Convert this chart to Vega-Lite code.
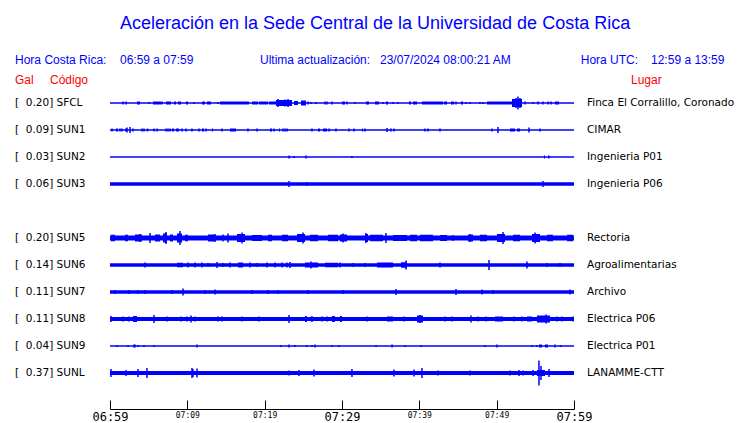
{
"$schema":"https://vega.github.io/schema/vega-lite/v6.json",
"width":464,"height":409,
"autosize":{"type":"none"},
"padding":{"left":110,"top":0,"right":166,"bottom":14},
"background":"white",
"config":{"view":{"stroke":null}},
"datasets":{
"st":[
{"c":"SFCL","gal":0.20,"place":"Finca El Corralillo, Coronado"},
{"c":"SUN1","gal":0.09,"place":"CIMAR"},
{"c":"SUN2","gal":0.03,"place":"Ingenieria P01"},
{"c":"SUN3","gal":0.06,"place":"Ingenieria P06"},
{"c":"SUN5","gal":0.20,"place":"Rectoria"},
{"c":"SUN6","gal":0.14,"place":"Agroalimentarias"},
{"c":"SUN7","gal":0.11,"place":"Archivo"},
{"c":"SUN8","gal":0.11,"place":"Electrica P06"},
{"c":"SUN9","gal":0.04,"place":"Electrica P01"},
{"c":"SUNL","gal":0.37,"place":"LANAMME-CTT"}
],
"seg":[
{"c":"SFCL","t0":0,"t1":60,"w":1.3},
{"c":"SUN1","t0":0,"t1":60,"w":1.3},
{"c":"SUN2","t0":0,"t1":60,"w":1.3},
{"c":"SUN3","t0":0,"t1":60,"w":3.6},
{"c":"SUN5","t0":0,"t1":60,"w":5},
{"c":"SUN6","t0":0,"t1":60,"w":3.3},
{"c":"SUN7","t0":0,"t1":60,"w":3.3},
{"c":"SUN8","t0":0,"t1":60,"w":3.8},
{"c":"SUN9","t0":0,"t1":60,"w":1.3},
{"c":"SUNL","t0":0,"t1":60,"w":4},
{"c":"SFCL","t0":3.49,"t1":3.88,"w":3},
{"c":"SFCL","t0":5.56,"t1":6.59,"w":3},
{"c":"SFCL","t0":7.24,"t1":7.89,"w":3},
{"c":"SFCL","t0":8.28,"t1":8.53,"w":3},
{"c":"SFCL","t0":8.79,"t1":9.18,"w":3},
{"c":"SFCL","t0":9.83,"t1":10.09,"w":3},
{"c":"SFCL","t0":11.9,"t1":12.28,"w":3},
{"c":"SFCL","t0":12.54,"t1":13.06,"w":3},
{"c":"SFCL","t0":14.22,"t1":17.97,"w":3},
{"c":"SFCL","t0":18.36,"t1":19.14,"w":3},
{"c":"SFCL","t0":19.27,"t1":20.43,"w":3},
{"c":"SFCL","t0":20.56,"t1":21.47,"w":3},
{"c":"SFCL","t0":21.47,"t1":23.53,"w":6},
{"c":"SFCL","t0":23.79,"t1":24.31,"w":4},
{"c":"SFCL","t0":24.7,"t1":25.34,"w":5},
{"c":"SFCL","t0":30.0,"t1":30.39,"w":3},
{"c":"SFCL","t0":33.1,"t1":33.49,"w":3},
{"c":"SFCL","t0":34.27,"t1":34.78,"w":3},
{"c":"SFCL","t0":35.69,"t1":35.95,"w":3},
{"c":"SFCL","t0":38.66,"t1":38.92,"w":3},
{"c":"SFCL","t0":39.18,"t1":39.7,"w":3},
{"c":"SFCL","t0":40.34,"t1":43.06,"w":3},
{"c":"SFCL","t0":43.19,"t1":43.58,"w":3},
{"c":"SFCL","t0":44.09,"t1":44.48,"w":3},
{"c":"SFCL","t0":45.39,"t1":45.65,"w":3},
{"c":"SFCL","t0":48.75,"t1":51.98,"w":3},
{"c":"SFCL","t0":51.98,"t1":53.28,"w":8},
{"c":"SFCL","t0":57.54,"t1":58.06,"w":3},
{"c":"SUN1","t0":0.78,"t1":1.03,"w":3},
{"c":"SUN1","t0":1.94,"t1":2.2,"w":3},
{"c":"SUN1","t0":8.02,"t1":8.28,"w":3},
{"c":"SUN1","t0":8.53,"t1":8.92,"w":3},
{"c":"SUN1","t0":11.9,"t1":12.16,"w":3},
{"c":"SUN1","t0":13.19,"t1":13.32,"w":3},
{"c":"SUN1","t0":15.52,"t1":16.29,"w":3},
{"c":"SUN1","t0":20.69,"t1":20.95,"w":3},
{"c":"SUN1","t0":21.85,"t1":21.98,"w":3},
{"c":"SUN1","t0":26.9,"t1":27.16,"w":3},
{"c":"SUN1","t0":27.54,"t1":28.06,"w":3},
{"c":"SUN1","t0":32.59,"t1":32.72,"w":3},
{"c":"SUN1","t0":51.72,"t1":52.37,"w":3},
{"c":"SUN1","t0":52.63,"t1":53.02,"w":3},
{"c":"SUN2","t0":56.12,"t1":56.25,"w":3},
{"c":"SUN2","t0":56.64,"t1":56.83,"w":3},
{"c":"SUN5","t0":0.13,"t1":0.65,"w":6.5},
{"c":"SUN5","t0":1.94,"t1":2.33,"w":6.5},
{"c":"SUN5","t0":3.23,"t1":4.14,"w":7},
{"c":"SUN5","t0":5.82,"t1":6.47,"w":7},
{"c":"SUN5","t0":6.85,"t1":7.37,"w":9},
{"c":"SUN5","t0":7.76,"t1":8.15,"w":7},
{"c":"SUN5","t0":8.66,"t1":9.31,"w":9},
{"c":"SUN5","t0":9.7,"t1":10.09,"w":6.5},
{"c":"SUN5","t0":12.67,"t1":13.58,"w":7},
{"c":"SUN5","t0":16.42,"t1":17.46,"w":8},
{"c":"SUN5","t0":18.36,"t1":19.66,"w":6},
{"c":"SUN5","t0":20.43,"t1":20.95,"w":6.5},
{"c":"SUN5","t0":22.24,"t1":23.02,"w":6.5},
{"c":"SUN5","t0":24.18,"t1":25.22,"w":8},
{"c":"SUN5","t0":25.86,"t1":26.9,"w":6.5},
{"c":"SUN5","t0":28.19,"t1":29.48,"w":6.5},
{"c":"SUN5","t0":29.74,"t1":30.65,"w":7},
{"c":"SUN5","t0":32.97,"t1":33.36,"w":8},
{"c":"SUN5","t0":33.62,"t1":35.3,"w":6.5},
{"c":"SUN5","t0":36.59,"t1":38.4,"w":6},
{"c":"SUN5","t0":38.79,"t1":39.7,"w":6.5},
{"c":"SUN5","t0":40.09,"t1":41.77,"w":6.5},
{"c":"SUN5","t0":42.67,"t1":43.58,"w":6},
{"c":"SUN5","t0":46.29,"t1":46.94,"w":7},
{"c":"SUN5","t0":47.84,"t1":48.75,"w":6.5},
{"c":"SUN5","t0":50.04,"t1":51.08,"w":8},
{"c":"SUN5","t0":52.11,"t1":53.02,"w":6.5},
{"c":"SUN5","t0":54.57,"t1":55.6,"w":8},
{"c":"SUN5","t0":56.51,"t1":57.28,"w":6.5},
{"c":"SUN5","t0":59.1,"t1":59.87,"w":6.5},
{"c":"SUN6","t0":8.66,"t1":9.44,"w":4.5},
{"c":"SUN6","t0":16.55,"t1":17.2,"w":5},
{"c":"SUN6","t0":25.22,"t1":26.9,"w":5},
{"c":"SUN6","t0":27.8,"t1":29.48,"w":4.5},
{"c":"SUN6","t0":34.53,"t1":36.59,"w":5},
{"c":"SUN6","t0":37.63,"t1":38.4,"w":5.5},
{"c":"SUN8","t0":2.97,"t1":3.49,"w":6},
{"c":"SUN8","t0":25.22,"t1":25.47,"w":6},
{"c":"SUN8","t0":28.71,"t1":29.09,"w":6},
{"c":"SUN8","t0":29.74,"t1":30.0,"w":6},
{"c":"SUN8","t0":35.82,"t1":36.59,"w":5},
{"c":"SUN8","t0":39.7,"t1":40.47,"w":7},
{"c":"SUN8","t0":49.78,"t1":50.82,"w":5},
{"c":"SUN8","t0":53.92,"t1":54.57,"w":5},
{"c":"SUN8","t0":55.21,"t1":56.9,"w":7},
{"c":"SUN9","t0":55.47,"t1":55.86,"w":3},
{"c":"SUN9","t0":56.25,"t1":56.64,"w":3},
{"c":"SUNL","t0":55.21,"t1":56.25,"w":6}
],
"spk":[
{"c":"SFCL","t":1.68,"h":3},{"c":"SFCL","t":2.07,"h":3},{"c":"SFCL","t":5.04,"h":2},{"c":"SFCL","t":6.72,"h":3},
{"c":"SFCL","t":10.86,"h":2},{"c":"SFCL","t":13.97,"h":2},{"c":"SFCL","t":21.72,"h":8},{"c":"SFCL","t":22.63,"h":7},
{"c":"SFCL","t":23.02,"h":8},{"c":"SFCL","t":25.6,"h":3},{"c":"SFCL","t":25.99,"h":2},{"c":"SFCL","t":26.64,"h":2},
{"c":"SFCL","t":27.8,"h":3},{"c":"SFCL","t":28.06,"h":3},{"c":"SFCL","t":28.71,"h":3},{"c":"SFCL","t":30.65,"h":3},
{"c":"SFCL","t":31.68,"h":2},{"c":"SFCL","t":35.3,"h":2},{"c":"SFCL","t":36.59,"h":2},{"c":"SFCL","t":37.24,"h":2},
{"c":"SFCL","t":44.74,"h":3},{"c":"SFCL","t":46.03,"h":2},{"c":"SFCL","t":46.55,"h":2},{"c":"SFCL","t":47.84,"h":2},
{"c":"SFCL","t":48.23,"h":2},{"c":"SFCL","t":52.5,"h":10},{"c":"SFCL","t":52.76,"h":13},{"c":"SFCL","t":53.02,"h":10},
{"c":"SFCL","t":53.66,"h":3},{"c":"SFCL","t":54.7,"h":2},{"c":"SFCL","t":55.34,"h":3},{"c":"SFCL","t":55.99,"h":3},
{"c":"SFCL","t":56.64,"h":3},{"c":"SFCL","t":57.03,"h":3},
{"c":"SUN1","t":0.26,"h":3},{"c":"SUN1","t":1.29,"h":3},{"c":"SUN1","t":1.55,"h":3},{"c":"SUN1","t":2.2,"h":5},
{"c":"SUN1","t":2.59,"h":6},{"c":"SUN1","t":2.97,"h":3},{"c":"SUN1","t":4.14,"h":3},{"c":"SUN1","t":4.4,"h":3},
{"c":"SUN1","t":4.85,"h":3},{"c":"SUN1","t":5.69,"h":3},{"c":"SUN1","t":6.08,"h":3},{"c":"SUN1","t":7.24,"h":3},
{"c":"SUN1","t":7.5,"h":3},{"c":"SUN1","t":7.76,"h":3},{"c":"SUN1","t":9.31,"h":3},{"c":"SUN1","t":9.83,"h":3},
{"c":"SUN1","t":10.6,"h":3},{"c":"SUN1","t":11.51,"h":3},{"c":"SUN1","t":12.41,"h":3},{"c":"SUN1","t":14.48,"h":3},
{"c":"SUN1","t":17.84,"h":3},{"c":"SUN1","t":19.01,"h":3},{"c":"SUN1","t":21.21,"h":3},{"c":"SUN1","t":22.37,"h":3},
{"c":"SUN1","t":22.63,"h":3},{"c":"SUN1","t":22.89,"h":3},{"c":"SUN1","t":26.12,"h":3},{"c":"SUN1","t":28.32,"h":3},
{"c":"SUN1","t":29.22,"h":3},{"c":"SUN1","t":30.9,"h":3},{"c":"SUN1","t":31.55,"h":3},{"c":"SUN1","t":32.97,"h":3},
{"c":"SUN1","t":35.82,"h":4},{"c":"SUN1","t":36.34,"h":3},{"c":"SUN1","t":36.72,"h":3},{"c":"SUN1","t":40.73,"h":3},
{"c":"SUN1","t":41.12,"h":3},{"c":"SUN1","t":42.67,"h":3},{"c":"SUN1","t":49.4,"h":3},{"c":"SUN1","t":50.17,"h":6},
{"c":"SUN1","t":54.18,"h":5},{"c":"SUN1","t":55.6,"h":3},
{"c":"SUN2","t":23.15,"h":3},{"c":"SUN2","t":23.79,"h":2},{"c":"SUN2","t":25.34,"h":3},{"c":"SUN2","t":31.29,"h":2},
{"c":"SUN3","t":23.15,"h":6},{"c":"SUN3","t":25.47,"h":4},{"c":"SUN3","t":55.99,"h":6},
{"c":"SUN5","t":3.88,"h":8},{"c":"SUN5","t":5.17,"h":10},{"c":"SUN5","t":7.24,"h":12},{"c":"SUN5","t":9.05,"h":14},
{"c":"SUN5","t":13.58,"h":8},{"c":"SUN5","t":14.61,"h":7},{"c":"SUN5","t":15.26,"h":9},{"c":"SUN5","t":17.07,"h":11},
{"c":"SUN5","t":24.96,"h":11},{"c":"SUN5","t":30.13,"h":9},{"c":"SUN5","t":33.1,"h":10},{"c":"SUN5","t":35.69,"h":10},
{"c":"SUN5","t":44.35,"h":6},{"c":"SUN5","t":46.55,"h":8},{"c":"SUN5","t":50.82,"h":12},{"c":"SUN5","t":54.96,"h":11},
{"c":"SUN6","t":4.53,"h":5},{"c":"SUN6","t":10.09,"h":5},{"c":"SUN6","t":10.99,"h":5},{"c":"SUN6","t":11.9,"h":5},
{"c":"SUN6","t":12.67,"h":4},{"c":"SUN6","t":13.84,"h":6},{"c":"SUN6","t":14.61,"h":4},{"c":"SUN6","t":15.52,"h":5},
{"c":"SUN6","t":18.1,"h":5},{"c":"SUN6","t":19.01,"h":4},{"c":"SUN6","t":20.3,"h":5},{"c":"SUN6","t":21.34,"h":5},
{"c":"SUN6","t":22.24,"h":5},{"c":"SUN6","t":22.89,"h":5},{"c":"SUN6","t":23.28,"h":6},{"c":"SUN6","t":25.99,"h":7},
{"c":"SUN6","t":29.74,"h":5},{"c":"SUN6","t":31.42,"h":4},{"c":"SUN6","t":32.97,"h":4},{"c":"SUN6","t":38.28,"h":9},
{"c":"SUN6","t":42.67,"h":5},{"c":"SUN6","t":49.01,"h":10},{"c":"SUN6","t":53.92,"h":7},{"c":"SUN6","t":56.51,"h":4},
{"c":"SUN6","t":58.19,"h":4},
{"c":"SUN7","t":0.65,"h":4},{"c":"SUN7","t":2.46,"h":4},{"c":"SUN7","t":3.62,"h":4},{"c":"SUN7","t":4.53,"h":4},
{"c":"SUN7","t":8.02,"h":4},{"c":"SUN7","t":9.44,"h":7},{"c":"SUN7","t":12.28,"h":4},{"c":"SUN7","t":13.58,"h":5},
{"c":"SUN7","t":18.36,"h":4},{"c":"SUN7","t":20.43,"h":4},{"c":"SUN7","t":21.72,"h":4},{"c":"SUN7","t":25.6,"h":4},
{"c":"SUN7","t":30.13,"h":4},{"c":"SUN7","t":36.98,"h":6},{"c":"SUN7","t":44.74,"h":6},{"c":"SUN7","t":48.1,"h":5},
{"c":"SUN7","t":49.53,"h":4},{"c":"SUN7","t":59.48,"h":5},
{"c":"SUN8","t":0.13,"h":6},{"c":"SUN8","t":1.68,"h":5},{"c":"SUN8","t":2.46,"h":5},{"c":"SUN8","t":5.69,"h":8},
{"c":"SUN8","t":7.37,"h":5},{"c":"SUN8","t":9.18,"h":5},{"c":"SUN8","t":9.96,"h":5},{"c":"SUN8","t":10.47,"h":7},
{"c":"SUN8","t":10.99,"h":5},{"c":"SUN8","t":12.03,"h":4},{"c":"SUN8","t":13.97,"h":5},{"c":"SUN8","t":14.48,"h":5},
{"c":"SUN8","t":17.07,"h":5},{"c":"SUN8","t":19.27,"h":5},{"c":"SUN8","t":23.15,"h":8},{"c":"SUN8","t":26.12,"h":6},
{"c":"SUN8","t":27.41,"h":5},{"c":"SUN8","t":28.06,"h":5},{"c":"SUN8","t":33.23,"h":5},{"c":"SUN8","t":38.02,"h":5},
{"c":"SUN8","t":40.09,"h":8},{"c":"SUN8","t":41.77,"h":4},{"c":"SUN8","t":43.32,"h":5},{"c":"SUN8","t":44.22,"h":5},
{"c":"SUN8","t":46.68,"h":7},{"c":"SUN8","t":47.59,"h":5},{"c":"SUN8","t":48.62,"h":5},{"c":"SUN8","t":52.24,"h":5},
{"c":"SUN8","t":53.28,"h":5},{"c":"SUN8","t":56.38,"h":9},{"c":"SUN8","t":57.8,"h":5},{"c":"SUN8","t":58.45,"h":5},
{"c":"SUN8","t":59.87,"h":5},
{"c":"SUN9","t":0.91,"h":2},{"c":"SUN9","t":2.33,"h":2},{"c":"SUN9","t":3.1,"h":3},{"c":"SUN9","t":3.23,"h":3},
{"c":"SUN9","t":3.62,"h":2},{"c":"SUN9","t":4.4,"h":2},{"c":"SUN9","t":5.69,"h":2},{"c":"SUN9","t":11.25,"h":3},
{"c":"SUN9","t":22.11,"h":2},{"c":"SUN9","t":23.15,"h":3},{"c":"SUN9","t":23.92,"h":2},{"c":"SUN9","t":25.47,"h":2},
{"c":"SUN9","t":26.12,"h":2},{"c":"SUN9","t":26.51,"h":3},{"c":"SUN9","t":28.71,"h":2},{"c":"SUN9","t":29.61,"h":2},
{"c":"SUN9","t":34.4,"h":2},{"c":"SUN9","t":36.47,"h":3},{"c":"SUN9","t":38.15,"h":2},{"c":"SUN9","t":40.22,"h":2},
{"c":"SUN9","t":48.49,"h":2},{"c":"SUN9","t":50.04,"h":3},{"c":"SUN9","t":54.57,"h":2},{"c":"SUN9","t":55.21,"h":2},
{"c":"SUN9","t":57.54,"h":3},{"c":"SUN9","t":58.32,"h":2},
{"c":"SUNL","t":0.13,"h":8},{"c":"SUNL","t":2.07,"h":6},{"c":"SUNL","t":3.62,"h":8},{"c":"SUNL","t":4.78,"h":10},
{"c":"SUNL","t":10.6,"h":10},{"c":"SUNL","t":10.73,"h":8},{"c":"SUNL","t":11.25,"h":9},{"c":"SUNL","t":23.15,"h":5},
{"c":"SUNL","t":24.44,"h":6},{"c":"SUNL","t":26.38,"h":7},{"c":"SUNL","t":31.29,"h":8},{"c":"SUNL","t":36.72,"h":7},
{"c":"SUNL","t":39.31,"h":7},{"c":"SUNL","t":40.34,"h":10},{"c":"SUNL","t":42.41,"h":5},{"c":"SUNL","t":46.55,"h":5},
{"c":"SUNL","t":51.72,"h":5},{"c":"SUNL","t":52.89,"h":6},{"c":"SUNL","t":53.41,"h":5},{"c":"SUNL","t":54.7,"h":6},
{"c":"SUNL","t":55.47,"h":25},{"c":"SUNL","t":55.73,"h":14},{"c":"SUNL","t":56.77,"h":8},{"c":"SUNL","t":59.74,"h":4}
]
},
"layer":[
{"data":{"name":"seg"},
 "mark":{"type":"rule","color":"#0000ff","strokeCap":"butt"},
 "encoding":{
  "x":{"field":"t0","type":"quantitative","scale":{"domain":[0,60],"nice":false,"zero":false},
   "axis":{"values":[0,5,10,15,20,25,30,35,40,45,50,55,60],"title":null,"grid":false,
    "domainColor":"#000000","domainWidth":1,"tickColor":"#000000","tickWidth":1,"tickSize":-9,
    "labelPadding":11,"labelBaseline":"top","labelFont":"DejaVu Sans Mono","labelColor":"#000000",
    "labelFlush":false,"labelOverlap":false,"labelBound":false,
    "labelExpr":"datum.value % 10 == 0 ? format(floor((419+datum.value)/60),'02d') + ':' + format((419+datum.value)%60,'02d') : ''",
    "labelFontSize":{"condition":{"test":"datum.value % 30 == 0","value":12},"value":8}}},
  "x2":{"field":"t1"},
  "y":{"field":"c","type":"nominal","axis":null,
   "scale":{"type":"point","domain":["title","hdr","cols","SFCL","SUN1","SUN2","SUN3","SUN4","SUN5","SUN6","SUN7","SUN8","SUN9","SUNL"],"range":[22,373],"padding":0}},
  "strokeWidth":{"field":"w","type":"quantitative","scale":{"domain":[0,10],"range":[0,10]},"legend":null}
 }},
{"data":{"name":"spk"},
 "mark":{"type":"tick","orient":"vertical","thickness":1.5,"color":"#0000ff","opacity":1},
 "encoding":{
  "x":{"field":"t","type":"quantitative"},
  "y":{"field":"c","type":"nominal","axis":null},
  "size":{"field":"h","type":"quantitative","scale":{"domain":[0,25],"range":[0,25]},"legend":null}
 }},
{"data":{"name":"st"},
 "transform":[{"calculate":"'[\u00a0\u00a0' + format(datum.gal,'.2f') + '] ' + datum.c","as":"label"}],
 "mark":{"type":"text","align":"left","baseline":"middle","dx":-95,"font":"DejaVu Sans","fontSize":10.5,"color":"#000000"},
 "encoding":{
  "x":{"datum":0,"type":"quantitative"},
  "y":{"field":"c","type":"nominal","axis":null},
  "text":{"field":"label"}
 }},
{"data":{"name":"st"},
 "mark":{"type":"text","align":"left","baseline":"middle","dx":13,"font":"DejaVu Sans","fontSize":10.5,"color":"#000000"},
 "encoding":{
  "x":{"datum":60,"type":"quantitative"},
  "y":{"field":"c","type":"nominal","axis":null},
  "text":{"field":"place"}
 }},
{"data":{"values":[{}]},
 "mark":{"type":"text","align":"center","baseline":"middle","dy":2,"font":"Liberation Sans","fontSize":18,"color":"#0000ff"},
 "encoding":{"x":{"datum":34.27,"type":"quantitative"},"y":{"datum":"title","type":"nominal","axis":null},
  "text":{"value":"Aceleración en la Sede Central de la Universidad de Costa Rica"}}},
{"data":{"values":[{}]},
 "mark":{"type":"text","align":"left","baseline":"middle","dy":11,"font":"Liberation Sans","fontSize":12,"color":"#0000ff"},
 "encoding":{"x":{"datum":-12.28,"type":"quantitative"},"y":{"datum":"hdr","type":"nominal","axis":null},
  "text":{"value":"Hora Costa Rica:"}}},
{"data":{"values":[{}]},
 "mark":{"type":"text","align":"left","baseline":"middle","dy":11,"font":"Liberation Sans","fontSize":12,"color":"#0000ff"},
 "encoding":{"x":{"datum":1.29,"type":"quantitative"},"y":{"datum":"hdr","type":"nominal","axis":null},
  "text":{"value":"06:59 a 07:59"}}},
{"data":{"values":[{}]},
 "mark":{"type":"text","align":"left","baseline":"middle","dy":11,"font":"Liberation Sans","fontSize":12,"color":"#0000ff"},
 "encoding":{"x":{"datum":19.4,"type":"quantitative"},"y":{"datum":"hdr","type":"nominal","axis":null},
  "text":{"value":"Ultima actualización:"}}},
{"data":{"values":[{}]},
 "mark":{"type":"text","align":"left","baseline":"middle","dy":11,"font":"Liberation Sans","fontSize":12,"color":"#0000ff"},
 "encoding":{"x":{"datum":34.91,"type":"quantitative"},"y":{"datum":"hdr","type":"nominal","axis":null},
  "text":{"value":"23/07/2024 08:00:21 AM"}}},
{"data":{"values":[{}]},
 "mark":{"type":"text","align":"left","baseline":"middle","dy":11,"font":"Liberation Sans","fontSize":12,"color":"#0000ff"},
 "encoding":{"x":{"datum":60.87,"type":"quantitative"},"y":{"datum":"hdr","type":"nominal","axis":null},
  "text":{"value":"Hora UTC:"}}},
{"data":{"values":[{}]},
 "mark":{"type":"text","align":"left","baseline":"middle","dy":11,"font":"Liberation Sans","fontSize":12,"color":"#0000ff"},
 "encoding":{"x":{"datum":69.96,"type":"quantitative"},"y":{"datum":"hdr","type":"nominal","axis":null},
  "text":{"value":"12:59 a 13:59"}}},
{"data":{"values":[{}]},
 "mark":{"type":"text","align":"left","baseline":"middle","dy":4,"font":"Liberation Sans","fontSize":12,"color":"#ff0000"},
 "encoding":{"x":{"datum":-12.28,"type":"quantitative"},"y":{"datum":"cols","type":"nominal","axis":null},
  "text":{"value":"Gal"}}},
{"data":{"values":[{}]},
 "mark":{"type":"text","align":"left","baseline":"middle","dy":4,"font":"Liberation Sans","fontSize":12,"color":"#ff0000"},
 "encoding":{"x":{"datum":-7.76,"type":"quantitative"},"y":{"datum":"cols","type":"nominal","axis":null},
  "text":{"value":"Código"}}},
{"data":{"values":[{}]},
 "mark":{"type":"text","align":"left","baseline":"middle","dy":4,"font":"Liberation Sans","fontSize":12,"color":"#ff0000"},
 "encoding":{"x":{"datum":67.37,"type":"quantitative"},"y":{"datum":"cols","type":"nominal","axis":null},
  "text":{"value":"Lugar"}}}
]
}
